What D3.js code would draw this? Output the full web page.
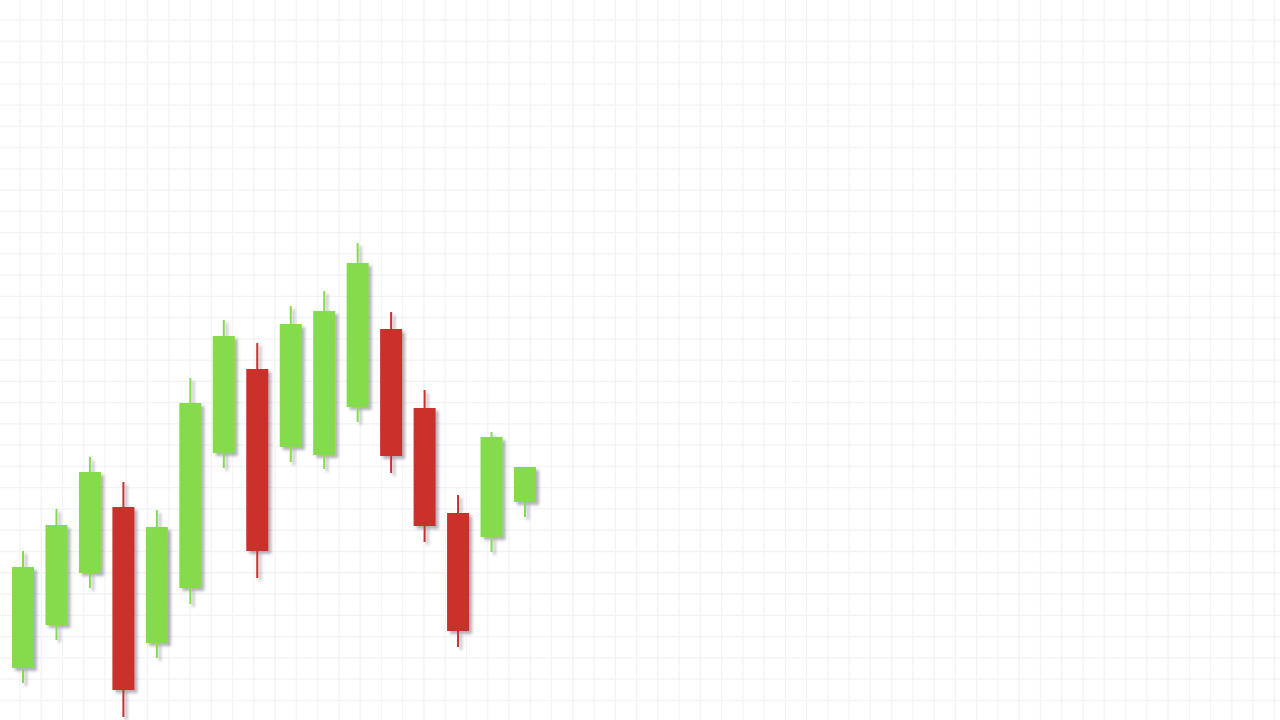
<!DOCTYPE html>
<html>
<head>
<meta charset="utf-8">
<script src="https://cdn.jsdelivr.net/npm/d3@7"></script>
<style>
  html, body { margin: 0; padding: 0; background: #ffffff; }
  svg { display: block; }
</style>
</head>
<body>
<svg id="chart" width="1280" height="720"></svg>
<script>
// Data (price units; higher = up)
const categories = ["D1","D2","D3","D4","D5","D6","D7","D8","D9","D10","D11","D12","D13","D14","D15","D16"];
const openValues  = [52, 95, 147, 213, 77, 132, 267, 351, 273, 265, 313, 391, 312, 207, 183, 218];
const closeValues = [153, 195, 248, 30, 193, 317, 384, 169, 396, 409, 457, 264, 194, 89, 283, 253];
const highValues  = [169, 211, 263, 238, 210, 342, 400, 377, 414, 429, 477, 408, 330, 225, 288, 253];
const lowValues   = [37, 80, 132, 3, 62, 116, 252, 142, 258, 251, 298, 247, 178, 73, 168, 203];

const data = categories.map((c, i) => ({
  cat: c, open: openValues[i], close: closeValues[i], high: highValues[i], low: lowValues[i]
}));

const W = 1280, H = 720;
const svg = d3.select("#chart");

// defs: shadow filter
const defs = svg.append("defs");
const f = defs.append("filter").attr("id", "shadow")
  .attr("x", "-50%").attr("y", "-20%").attr("width", "200%").attr("height", "140%");
f.append("feDropShadow").attr("dx", 3).attr("dy", 3).attr("stdDeviation", 1.8)
  .attr("flood-color", "#556").attr("flood-opacity", 0.45);

// grid
const gridStep = 21.26, gridStart = 20;
const grid = svg.append("g").attr("stroke", "#f1f3f7").attr("stroke-width", 1.3);
grid.selectAll("line.v").data(d3.range(gridStart, W, gridStep)).join("line")
  .attr("class", "v").attr("x1", d => d).attr("x2", d => d).attr("y1", 0).attr("y2", H);
grid.selectAll("line.h").data(d3.range(gridStart, H, gridStep)).join("line")
  .attr("class", "h").attr("y1", d => d).attr("y2", d => d).attr("x1", 0).attr("x2", W);

// scales
const x = d3.scalePoint().domain(categories).range([23, 525]);
const y = d3.scaleLinear().domain([0, 720]).range([720, 0]);
const bodyW = 22;

const up = "#84dc4e", down = "#c8302c";
const g = svg.append("g").attr("filter", "url(#shadow)");
const candle = g.selectAll("g.c").data(data).join("g").attr("class", "c");

candle.append("line")
  .attr("x1", d => x(d.cat)).attr("x2", d => x(d.cat))
  .attr("y1", d => y(d.high)).attr("y2", d => y(d.low))
  .attr("stroke", d => d.close >= d.open ? up : down)
  .attr("stroke-width", 2);

candle.append("rect")
  .attr("x", d => x(d.cat) - bodyW / 2)
  .attr("width", bodyW)
  .attr("y", d => y(Math.max(d.open, d.close)))
  .attr("height", d => Math.abs(y(d.open) - y(d.close)))
  .attr("fill", d => d.close >= d.open ? up : down);
</script>
</body>
</html>
